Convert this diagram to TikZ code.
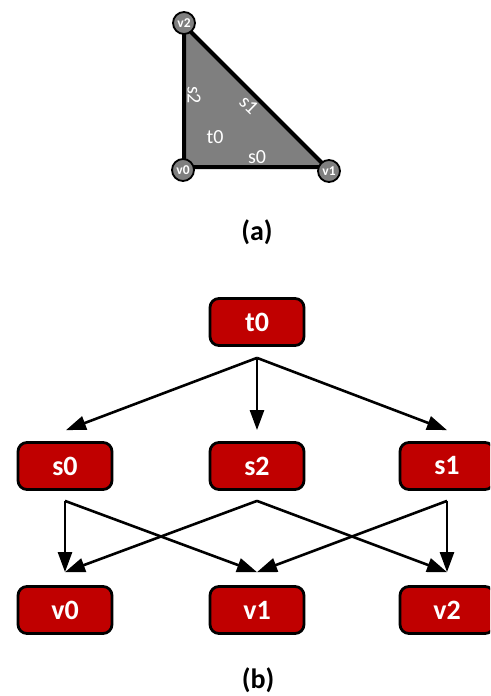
\documentclass[tikz,border=0pt]{standalone}
\usepackage{fontspec}
\setmainfont{Carlito}
\usetikzlibrary{arrows.meta,calc}
\definecolor{boxred}{HTML}{C00000}
\definecolor{meshgray}{HTML}{7F7F7F}
\tikzset{
  hbox/.style={draw=black, line width=2.8pt, fill=boxred, rounded corners=9pt,
    minimum width=94pt, minimum height=47pt, inner sep=0pt, text=white,
    font=\fontsize{28}{32}\bfseries\selectfont},
  vdot/.style={circle, draw=black, line width=1.8pt, fill=meshgray,
    minimum size=22pt, inner sep=0pt, text=white,
    font=\fontsize{13.5}{15}\bfseries\selectfont},
  elabel/.style={text=white, inner sep=0pt, font=\fontsize{20}{24}\selectfont},
  link/.style={draw=black, line width=2.6pt,
    -{Triangle[length=20pt,width=14pt]}},
  caption/.style={inner sep=0pt, font=\fontsize{28}{32}\bfseries\selectfont}
}
\begin{document}
\begin{tikzpicture}[x=1pt,y=-1pt]
\path[use as bounding box] (0,0) rectangle (490,696);
\clip (0,0) rectangle (490,696);
\fill[white] (0,0) rectangle (490,696);

% triangle t0 with its edges and vertices
\coordinate (c0) at (184,167);
\coordinate (c1) at (326,167);
\coordinate (c2) at (184,25);
\fill[meshgray] (c0) -- (c1) -- (c2) -- cycle;
\draw[line width=4pt, line join=round] (c0) -- (c1) -- (c2) -- cycle;
\node[vdot] (v0) at (183,170) {v0};
\node[vdot] (v1) at (329,171) {v1};
\node[vdot] (v2) at (184,23) {v2};
\node[elabel, rotate=-90] (ls2) at (194,95) {s2};
\node[elabel, rotate=-44] (ls1) at (249,105) {s1};
\node[elabel] (lt0) at (215,137) {t0};
\node[elabel] (ls0) at (257,157) {s0};
\node[caption] (capa) at (257,232) {(a)};

% hierarchy boxes
\node[hbox] (t0) at (257,322) {t0};
\node[hbox] (s0) at (65,466) {s0};
\node[hbox] (s2) at (257,466) {s2};
\node[hbox] (s1) at (447,466) {s1};
\node[hbox] (v0b) at (65,610) {v0};
\node[hbox] (v1b) at (257,610) {v1};
\node[hbox] (v2b) at (447,610) {v2};

% connector end points
\coordinate (t0out) at ($(t0.south)+(0,11)$);
\coordinate (s0in) at ($(s0.north)+(1,-11)$);
\coordinate (s2in) at ($(s2.north)+(0,-11)$);
\coordinate (s1in) at ($(s1.north)+(0,-11)$);
\coordinate (s0out) at ($(s0.south)+(0,10)$);
\coordinate (s2out) at ($(s2.south)+(0,10)$);
\coordinate (s1out) at ($(s1.south)+(0,10)$);
\coordinate (v0in) at ($(v0b.north)+(0,-13)$);
\coordinate (v1in) at ($(v1b.north)+(0,-13)$);
\coordinate (v2in) at ($(v2b.north)+(0,-13)$);

\draw[link] (t0out) -- (s0in);
\draw[link] (t0out) -- (s2in);
\draw[link] (t0out) -- (s1in);

\draw[link] (s0out) -- (v0in);
\draw[link] (s0out) -- (v1in);
\draw[link] (s2out) -- (v0in);
\draw[link] (s2out) -- (v2in);
\draw[link] (s1out) -- (v1in);
\draw[link] (s1out) -- (v2in);

\node[caption] (capb) at (258,680) {(b)};
\end{tikzpicture}
\end{document}
